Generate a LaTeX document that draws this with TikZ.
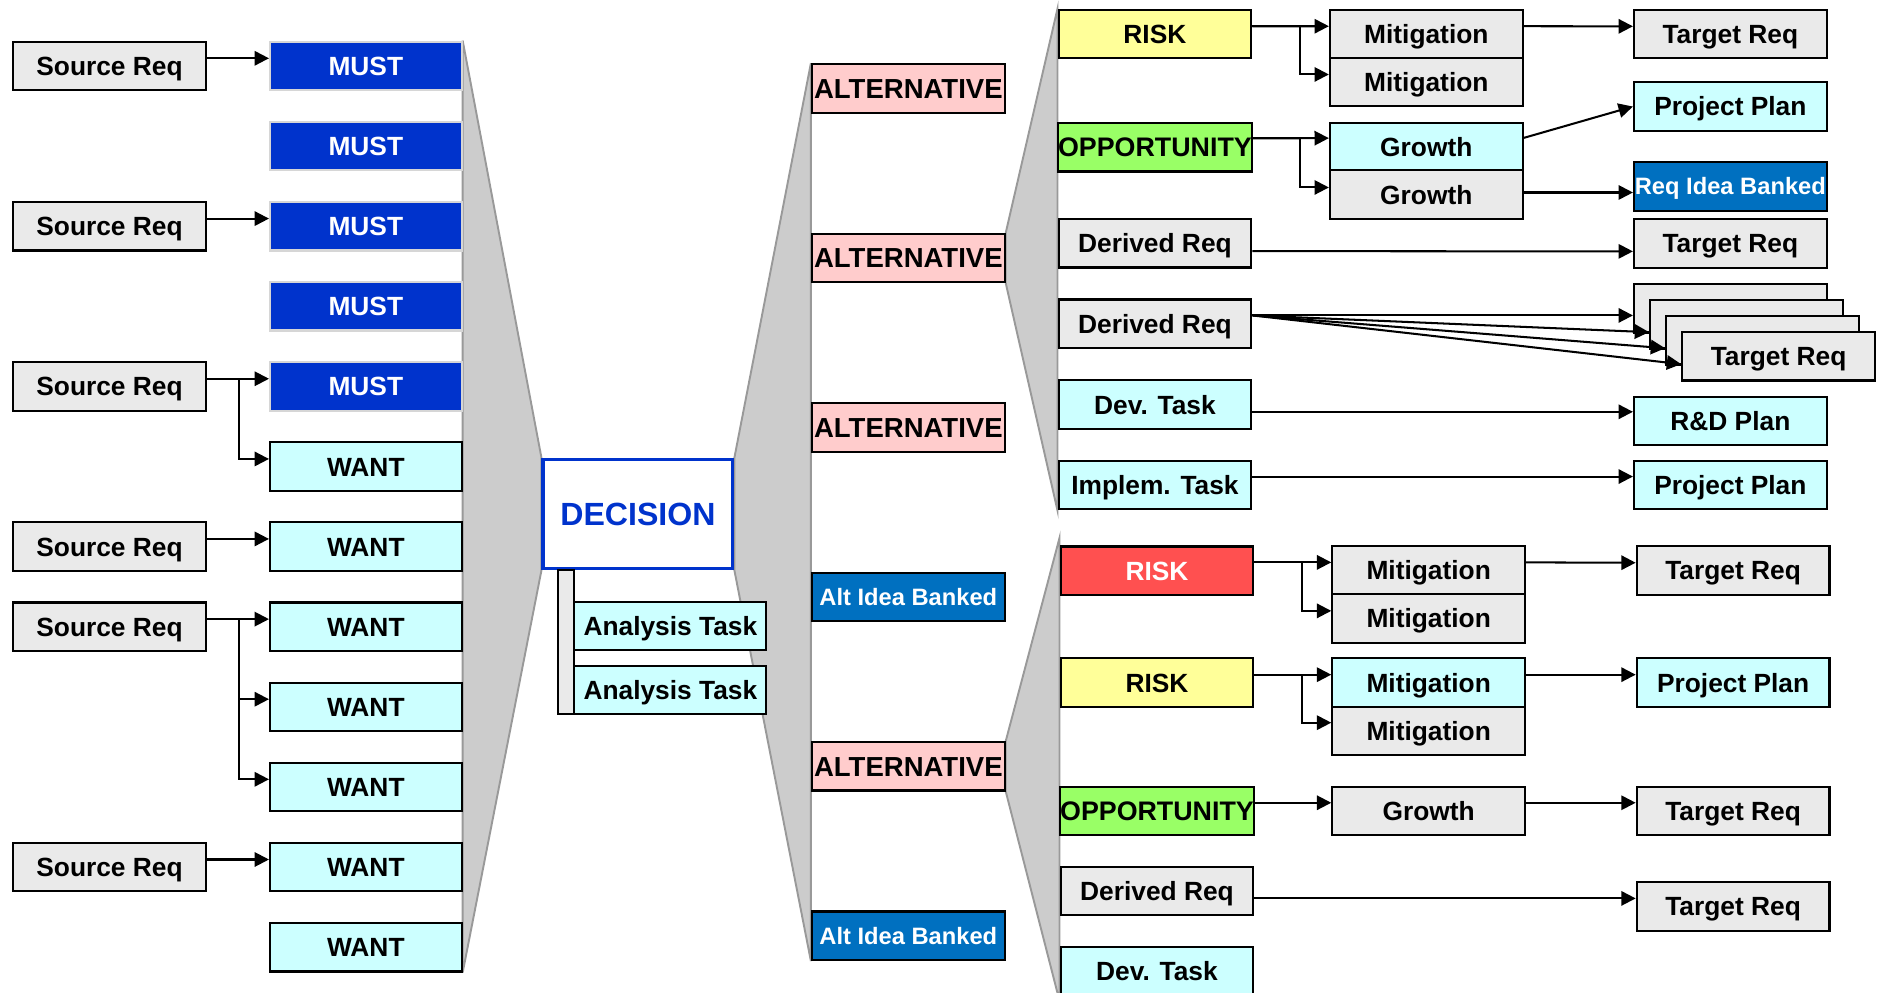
\documentclass[tikz,border=0pt]{standalone}
\usepackage{fontspec}
\setmainfont{Liberation Sans}
\usetikzlibrary{arrows.meta,calc}
\pgfdeclarelayer{background}
\pgfsetlayers{background,main}

\definecolor{srcgray}{HTML}{EAEAEA}
\definecolor{mustblue}{HTML}{0033CC}
\definecolor{mustedge}{HTML}{D6D6D6}
\definecolor{cyanfill}{HTML}{CCFFFF}
\definecolor{altpink}{HTML}{FFCCCC}
\definecolor{bankblue}{HTML}{0070C0}
\definecolor{riskyellow}{HTML}{FFFF99}
\definecolor{riskred}{HTML}{FF5050}
\definecolor{oppgreen}{HTML}{99FF66}
\definecolor{wedgefill}{HTML}{CCCCCC}
\definecolor{wedgeedge}{HTML}{999999}
\definecolor{decblue}{HTML}{0033CC}

\newcommand\boxfont{\fontsize{11}{13}\selectfont\bfseries}
\newcommand\altfont{\fontsize{11.5}{13}\selectfont\bfseries}
\newcommand\oppfont{\fontsize{11.2}{13}\selectfont\bfseries}
\newcommand\bankfont{\fontsize{9.9}{12}\selectfont\bfseries}
\newcommand\decfont{\fontsize{13.4}{15}\selectfont\bfseries}

\tikzset{
  box/.style={draw=black, line width=0.9pt, minimum width=80.5pt, minimum height=20.25pt,
              inner sep=0pt, font=\boxfont, text=black, text height=7.9pt, text depth=0pt},
  plain/.style={box, fill=srcgray},
  must/.style={box, fill=mustblue, draw=mustedge, text=white},
  task/.style={box, fill=cyanfill},
  alt/.style={box, fill=altpink, font=\altfont, text height=8.2pt},
  bank/.style={box, fill=bankblue, text=white, font=\bankfont, text height=7.1pt},
  riskY/.style={box, fill=riskyellow},
  riskR/.style={box, fill=riskred, text=white},
  opp/.style={box, fill=oppgreen, font=\oppfont, text height=8pt},
  wedge/.style={fill=wedgefill, draw=wedgeedge, line width=0.8pt, line join=miter},
  conn/.style={-{Triangle[length=6pt,width=6pt]}, line width=0.85pt},
}

\begin{document}
\begin{tikzpicture}[x=0.5pt,y=-0.5pt]
\useasboundingbox (0,0) rectangle (1568,829);
\clip (0,0) rectangle (1568,829);

% ---------- source requirements ----------
\node[plain] (sr1) at (91.5,55.1)  {Source Req};
\node[plain] (sr2) at (91.5,189.0) {Source Req};
\node[plain] (sr3) at (91.5,322.8) {Source Req};
\node[plain] (sr4) at (91.5,456.6) {Source Req};
\node[plain] (sr5) at (91.5,523.6) {Source Req};
\node[plain] (sr6) at (91.5,724.4) {Source Req};

% ---------- must / want ----------
\node[must, minimum width=80pt] (must1) at (305.6,55.1)  {MUST};
\node[must, minimum width=80pt] (must2) at (305.6,122.0) {MUST};
\node[must, minimum width=80pt] (must3) at (305.6,189.0) {MUST};
\node[must, minimum width=80pt] (must4) at (305.6,255.9) {MUST};
\node[must, minimum width=80pt] (must5) at (305.6,322.8) {MUST};
\node[task, minimum width=80pt] (want1) at (305.6,389.8) {WANT};
\node[task, minimum width=80pt] (want2) at (305.6,456.6) {WANT};
\node[task, minimum width=80pt] (want3) at (305.6,523.6) {WANT};
\node[task, minimum width=80pt] (want4) at (305.6,590.5) {WANT};
\node[task, minimum width=80pt] (want5) at (305.6,657.4) {WANT};
\node[task, minimum width=80pt] (want6) at (305.6,724.4) {WANT};
\node[task, minimum width=80pt] (want7) at (305.6,791.3) {WANT};

% ---------- decision ----------
\node[draw=decblue, line width=1.6pt, fill=white, minimum width=79pt, minimum height=45.5pt,
      inner sep=0pt, font=\decfont, text=decblue, text height=9.6pt, text depth=0pt]
      (dec) at (532.9,429.4) {DECISION};
\node[draw=black, fill=srcgray, line width=0.9pt, minimum width=7pt, minimum height=60.3pt,
      inner sep=0pt] (bar) at (472.8,536.2) {};
\node[task, minimum width=80.2pt] (at1) at (560.0,523.0) {Analysis Task};
\node[task, minimum width=80.2pt] (at2) at (560.0,576.3) {Analysis Task};

% ---------- alternatives ----------
\node[alt]  (alt1)  at (758.8,73.9)  {ALTERNATIVE};
\node[alt]  (alt2)  at (758.8,215.5) {ALTERNATIVE};
\node[alt]  (alt3)  at (758.8,357.0) {ALTERNATIVE};
\node[bank] (bank1) at (758.8,498.6) {Alt Idea Banked};
\node[alt]  (alt4)  at (758.8,640.1) {ALTERNATIVE};
\node[bank] (bank2) at (758.8,781.7) {Alt Idea Banked};

% ---------- upper branch ----------
\node[riskY] (risk1) at (964.8,28.4)  {RISK};
\node[opp]   (opp1)  at (964.8,123.0) {OPPORTUNITY};
\node[plain] (der1)  at (964.8,203.2) {Derived Req};
\node[plain] (der2)  at (964.8,270.4) {Derived Req};
\node[task]  (dev1)  at (964.8,338.0) {Dev. Task};
\node[task]  (impl)  at (964.8,405.3) {Implem. Task};

\node[plain] (mit1) at (1191.5,28.3)  {Mitigation};
\node[plain] (mit2) at (1191.5,68.6)  {Mitigation};
\node[task]  (gro1) at (1191.5,122.8) {Growth};
\node[plain] (gro2) at (1191.5,162.6) {Growth};

\node[plain] (tr1) at (1445.5,28.4)  {Target Req};
\node[task]  (pp1) at (1445.5,89.0)  {Project Plan};
\node[bank]  (rib) at (1445.5,155.7) {Req Idea Banked};
\node[plain] (tr2) at (1445.5,203.4) {Target Req};
\node[plain] (tqa) at (1445.5,257.5) {};
\node[plain] (tqb) at (1459.0,270.9) {};
\node[plain] (tqc) at (1472.4,284.3) {};
\node[plain] (tqd) at (1485.8,297.6) {Target Req};
\node[task]  (rd)  at (1445.5,351.8) {R\&D Plan};
\node[task]  (pp2) at (1445.5,405.3) {Project Plan};

% ---------- lower branch ----------
\node[riskR] (risk2) at (966.5,476.8) {RISK};
\node[riskY] (risk3) at (966.5,570.2) {RISK};
\node[opp]   (opp2)  at (966.5,677.4) {OPPORTUNITY};
\node[plain] (der3)  at (966.5,744.2) {Derived Req};
\node[task]  (dev2)  at (966.5,811.0) {Dev. Task};

\node[plain] (mit3) at (1193.5,476.2) {Mitigation};
\node[plain] (mit4) at (1193.5,516.7) {Mitigation};
\node[task]  (mit5) at (1193.5,570.2) {Mitigation};
\node[plain] (mit6) at (1193.5,610.7) {Mitigation};
\node[plain] (gro3) at (1193.5,677.4) {Growth};

\node[plain] (tr3) at (1447.8,476.5) {Target Req};
\node[task]  (pp3) at (1447.8,570.2) {Project Plan};
\node[plain] (tr4) at (1447.8,677.4) {Target Req};
\node[plain] (tr5) at (1447.8,757.2) {Target Req};

% ---------- grey fans behind the columns ----------
\begin{pgfonlayer}{background}
  \clip (0,0) rectangle (1568,829);
  \draw[wedge] (must1.north east) -- (dec.north west) -- (dec.south west)
               -- (want7.south east) -- cycle;
  \draw[wedge] (dec.north east) -- (alt1.north west) -- (bank2.south west)
               -- (dec.south east) -- cycle;
  \draw[wedge] (alt2.north east) -- (risk1.north west) -- (impl.south west)
               -- (alt2.south east) -- cycle;
  \draw[wedge] (alt4.north east) -- ([yshift=3.2pt]risk2.north west)
               -- ([yshift=-2pt]dev2.south west) -- (alt4.south east) -- cycle;
\end{pgfonlayer}

% ---------- connectors: left ----------
\draw[conn] ([yshift=3.2pt]sr1.east) -- ([yshift=3.2pt]must1.west);
\draw[conn] ([yshift=3.2pt]sr2.east) -- ([yshift=3.2pt]must3.west);
\draw[conn] ([yshift=3.2pt]sr3.east) -- ([yshift=3.2pt]must5.west);
\draw[conn] ([yshift=3.2pt]sr3.east) -- ++(13.5pt,0) |- ([yshift=3.2pt]want1.west);
\draw[conn] ([yshift=3.2pt]sr4.east) -- ([yshift=3.2pt]want2.west);
\draw[conn] ([yshift=3.2pt]sr5.east) -- ([yshift=3.2pt]want3.west);
\draw[conn] ([yshift=3.2pt]sr5.east) -- ++(13.5pt,0) |- ([yshift=3.2pt]want4.west);
\draw[conn] ([yshift=3.2pt]sr5.east) -- ++(13.5pt,0) |- ([yshift=3.2pt]want5.west);
\draw[conn] ([yshift=3.2pt]sr6.east) -- ([yshift=3.2pt]want6.west);

% ---------- connectors: upper branch ----------
\draw[conn] ([yshift=3.2pt]risk1.east) -- ([yshift=3.2pt]mit1.west);
\draw[conn] ([yshift=3.2pt]risk1.east) -- ++(19.85pt,0) |- ([yshift=3.2pt]mit2.west);
\draw[conn] ([yshift=3.2pt]mit1.east) -- ([yshift=3.2pt]tr1.west);
\draw[conn] ([yshift=3.7pt]opp1.east) -- ([yshift=3.7pt]gro1.west);
\draw[conn] ([yshift=3.7pt]opp1.east) -- ++(19.85pt,0) |- ([yshift=3pt]gro2.west);
\draw[conn] ([yshift=3.8pt]gro1.east) -- (pp1.west);
\coordinate (g2) at ([yshift=0.9pt]gro2.east);
\draw[conn] (g2) -- (g2 -| rib.west);
\draw[conn] ([yshift=-3.3pt]der1.east) -- ([yshift=-3.3pt]tr2.west);
\draw[conn] ([yshift=3.45pt]der2.east) -- ([yshift=-3pt]tqa.west);
\draw[conn] ([yshift=3.45pt]der2.east) -- ([yshift=-3.3pt]tqb.west);
\draw[conn] ([yshift=3.45pt]der2.east) -- ([yshift=-3.3pt]tqc.west);
\draw[conn] ([yshift=3.45pt]der2.east) -- ([yshift=-3.3pt]tqd.west);
\coordinate (d1) at ([yshift=-3pt]dev1.east);
\draw[conn] (d1) -- (d1 -| rd.west);
\draw[conn] ([yshift=3.6pt]impl.east) -- ([yshift=3.6pt]pp2.west);

% ---------- connectors: lower branch ----------
\coordinate (r2) at ([yshift=3.5pt]risk2.east);
\draw[conn] (r2) -- (r2 -| mit3.west);
\draw[conn] (r2) -- ++(19.85pt,0) |- ([yshift=3.2pt]mit4.west);
\draw[conn] ([yshift=3.2pt]mit3.east) -- ([yshift=3.2pt]tr3.west);
\draw[conn] ([yshift=3.3pt]risk3.east) -- ([yshift=3.3pt]mit5.west);
\draw[conn] ([yshift=3.3pt]risk3.east) -- ++(19.85pt,0) |- ([yshift=3.5pt]mit6.west);
\draw[conn] ([yshift=3.3pt]mit5.east) -- ([yshift=3.3pt]pp3.west);
\draw[conn] ([yshift=3.4pt]opp2.east) -- ([yshift=3.4pt]gro3.west);
\draw[conn] ([yshift=3.4pt]gro3.east) -- ([yshift=3.4pt]tr4.west);
\coordinate (d3) at ([yshift=-3.15pt]der3.east);
\draw[conn] (d3) -- (d3 -| tr5.west);
\end{tikzpicture}
\end{document}
